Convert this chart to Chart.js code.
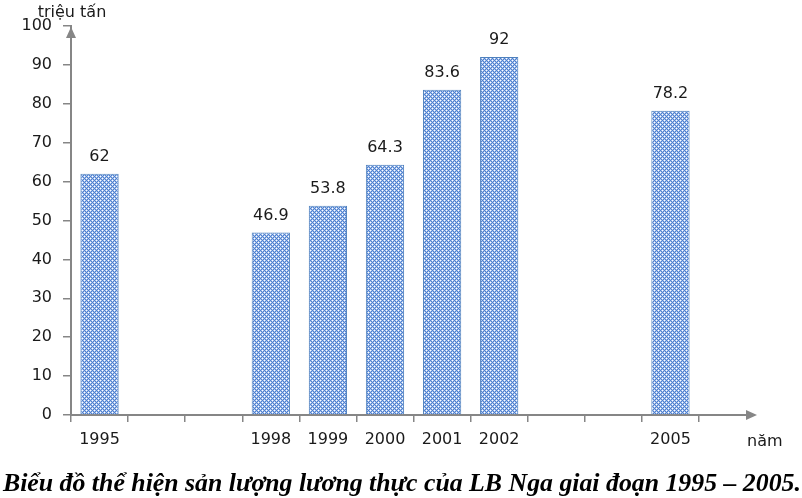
<!DOCTYPE html>
<html><head><meta charset="utf-8">
<script src="https://cdn.jsdelivr.net/npm/chart.js@4"></script>
<style>html,body{margin:0;padding:0;background:#fff}#wrap{width:802px;height:498px;position:relative}</style>
</head><body><div id="wrap"><canvas id="c"></canvas></div>
<script>
const categories = ['1995','1996','1997','1998','1999','2000','2001','2002','2003','2004','2005'];
const shownYears = ['1995','1998','1999','2000','2001','2002','2005'];
const values = [62, null, null, 46.9, 53.8, 64.3, 83.6, 92, null, null, 78.2];
const yTicks = [0, 10, 20, 30, 40, 50, 60, 70, 80, 90, 100];
const yUnit = 'triệu tấn';
const xUnit = 'năm';
const chartTitle = 'Biểu đồ thể hiện sản lượng lương thực của LB Nga giai đoạn 1995 – 2005.';

const AXIS = '#868686';
const FONT = 'DejaVu Sans';

function makePattern(ctx){
  const c = document.createElement('canvas'); c.width = 4; c.height = 4;
  const p = c.getContext('2d');
  p.fillStyle = '#4f80cc'; p.fillRect(0,0,4,4);
  p.fillStyle = '#a7c2ee';
  [[1,0],[0,1],[3,2],[2,3],[3,0],[0,3],[1,2],[2,1]].forEach(([a,b])=>p.fillRect(a,b,1,1));
  p.fillStyle = '#ffffff';
  p.fillRect(0,0,1,1); p.fillRect(2,2,1,1);
  return ctx.createPattern(c,'repeat');
}

const canvas = document.getElementById('c');
const ctx = canvas.getContext('2d');

const decor = {
  id: 'decor',
  afterDraw(chart){
    const c = chart.ctx, a = chart.chartArea;
    c.save();
    c.fillStyle = '#1a1a1a';
    c.font = '16px "' + FONT + '"';
    c.textAlign = 'center'; c.textBaseline = 'alphabetic';
    const meta = chart.getDatasetMeta(0);
    meta.data.forEach((bar, i) => {
      const v = values[i];
      if (v === null) return;
      c.fillText(String(v), bar.x, bar.y - 13);
    });
    c.fillStyle = AXIS; c.strokeStyle = AXIS; c.lineWidth = 2;
    const x0 = a.left, yb = a.bottom;
    c.beginPath(); c.moveTo(x0, a.top + 1); c.lineTo(x0 - 5, a.top + 12); c.lineTo(x0 + 5, a.top + 12); c.closePath(); c.fill();
    const ext = a.right + 58;
    c.beginPath(); c.moveTo(a.right, yb); c.lineTo(ext - 8, yb); c.stroke();
    c.beginPath(); c.moveTo(ext, yb); c.lineTo(ext - 11, yb - 5); c.lineTo(ext - 11, yb + 5); c.closePath(); c.fill();
    c.fillStyle = '#1a1a1a';
    c.font = '16px "' + FONT + '"';
    c.textAlign = 'center';
    c.fillText(yUnit, 72, 17);
    c.textAlign = 'left';
    c.fillText(xUnit, 747, 446);
    c.fillStyle = '#000';
    c.font = 'italic bold 25.8px "Liberation Serif"';
    c.textAlign = 'left';
    c.fillText(chartTitle, 3, 491);
    c.restore();
  }
};

new Chart(ctx, {
  type: 'bar',
  data: {
    labels: categories,
    datasets: [{
      data: values,
      backgroundColor: makePattern(ctx),
      borderColor: '#4f81bd',
      borderWidth: 1,
      barPercentage: 0.67,
      categoryPercentage: 1
    }]
  },
  options: {
    responsive: true,
    maintainAspectRatio: false,
    animation: false,
    layout: { padding: { left: 23, right: 103, top: 26, bottom: 43 } },
    plugins: { legend: { display: false }, tooltip: { enabled: false }, title: { display: false } },
    scales: {
      x: {
        type: 'category',
        offset: true,
        grid: { display: true, offset: true, drawOnChartArea: false, drawTicks: true, tickLength: 7, color: AXIS, lineWidth: 1.5 },
        border: { display: true, color: AXIS, width: 2 },
        ticks: {
          autoSkip: false, maxRotation: 0, padding: 8,
          color: '#1a1a1a', font: { family: FONT, size: 16 },
          callback: function(v, i){ const l = categories[i]; return shownYears.includes(l) ? l : ''; }
        },
        afterFit(scale){ scale.height = 40; }
      },
      y: {
        min: 0, max: 100,
        afterBuildTicks(scale){ scale.ticks = yTicks.map(v => ({ value: v })); },
        grid: { display: true, drawOnChartArea: false, drawTicks: true, tickLength: 8, color: AXIS, lineWidth: 1.5 },
        border: { display: true, color: AXIS, width: 2 },
        ticks: { padding: 11, color: '#1a1a1a', font: { family: FONT, size: 16 } },
        afterFit(scale){ scale.width = 48; }
      }
    }
  },
  plugins: [decor]
});
</script>
</body></html>
